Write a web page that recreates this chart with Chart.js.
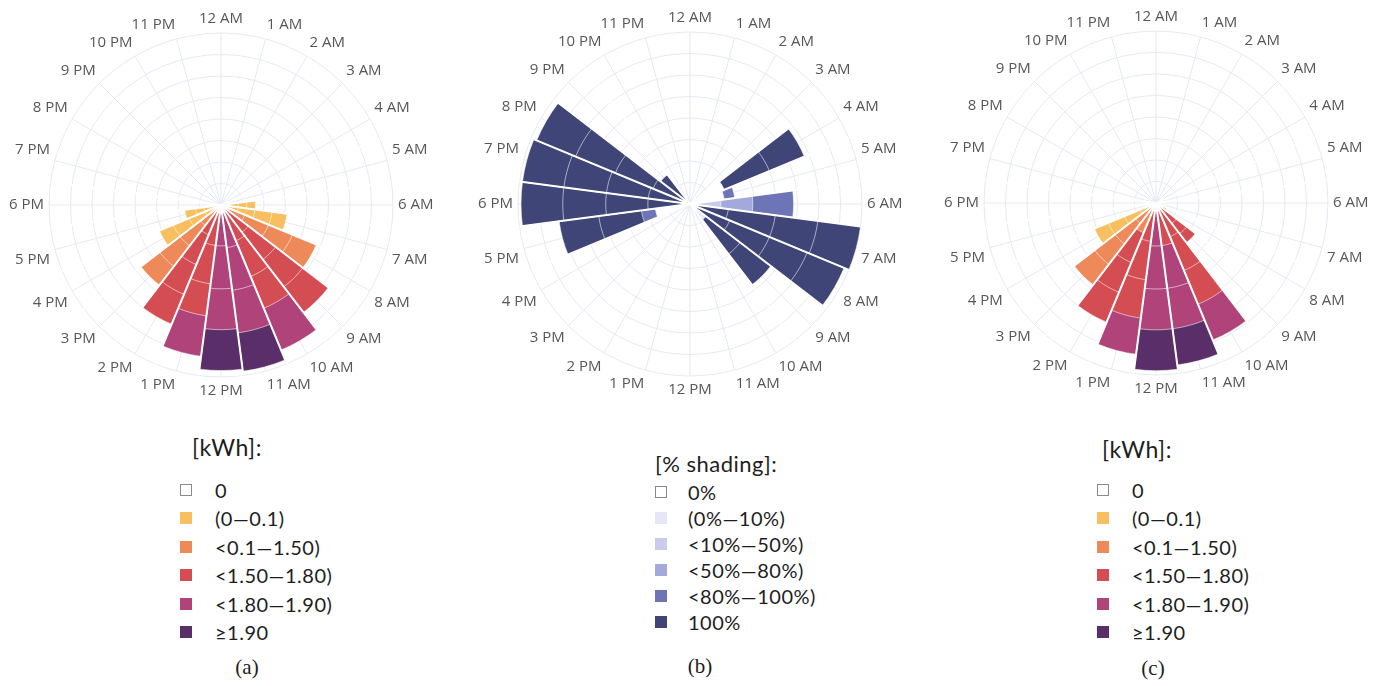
<!DOCTYPE html>
<html>
<head>
<meta charset="utf-8">
<script src="https://cdn.jsdelivr.net/npm/chart.js@4.4.1/dist/chart.umd.min.js"></script>
<style>
  html, body { margin: 0; padding: 0; background: #ffffff; width: 1383px; height: 686px; overflow: hidden; }
  canvas.rose { position: absolute; }
  .lg-title, .lg-text { position: absolute; font-family: Lato, "Open Sans", sans-serif; color: #1e1e1e; white-space: nowrap; line-height: 1; letter-spacing: 0.5px; }
  .lg-box { position: absolute; width: 12px; height: 12px; box-sizing: border-box; }
  .caption { position: absolute; font-family: "Liberation Serif", "DejaVu Serif", serif; font-size: 21px; color: #1e1e1e; line-height: 1; transform: translate(-50%, -50%); }
</style>
</head>
<body>
<canvas id="roseA" class="rose" width="460" height="390"></canvas>
<canvas id="roseB" class="rose" width="460" height="390"></canvas>
<canvas id="roseC" class="rose" width="460" height="390"></canvas>

<script>
// Hour-of-day directions, clockwise from midnight at the top
const hourLabels = ['12 AM','1 AM','2 AM','3 AM','4 AM','5 AM','6 AM','7 AM','8 AM','9 AM','10 AM','11 AM',
                    '12 PM','1 PM','2 PM','3 PM','4 PM','5 PM','6 PM','7 PM','8 PM','9 PM','10 PM','11 PM'];

// Energy classes [kWh] used by roses (a) and (c)
const kwhClasses = ['0', '(0\u20140.1)', '<0.1\u20141.50)', '<1.50\u20141.80)', '<1.80\u20141.90)', '\u22651.90'];
const kwhColors  = ['#ffffff', '#f7bf5f', '#ee8a5a', '#d34d52', '#b0437a', '#5a2e69'];

// Shading classes [%] used by rose (b)
const shadeClasses = ['0%', '(0%\u201410%)', '<10%\u201450%)', '<50%\u201480%)', '<80%\u2014100%)', '100%'];
const shadeColors  = ['#ffffff', '#e5e7f5', '#c9cdeb', '#a3a9da', '#6d75b6', '#3f4677'];

// Radial axis
const radialMax = 40;
const radialStep = 5;

// ---- Rose (a): stacked layers, value per hour and class per hour ----
const aLayer1 = [0,0,0,0,0,2,2,4,6,8,9,10,9.5,9.5,7.5,6,4,2,1.5,0,0,0,0,0];
const aClass1 = [0,0,0,0,0,1,1,1,2,3,3,4,4,3,3,2,1,1,1,0,0,0,0,0];
const aLayer2 = [0,0,0,0,0,0,2,4,6,8,9,10,10,9,7.5,6,4,2,0,0,0,0,0,0];
const aClass2 = [0,0,0,0,0,0,1,1,2,3,3,4,4,3,3,2,1,1,0,0,0,0,0,0];
const aLayer3 = [0,0,0,0,0,0,2,4,6,8,8,10,9.5,7.5,7.5,6,4,2,0,0,0,0,0,0];
const aClass3 = [0,0,0,0,0,0,1,1,2,3,3,4,4,3,3,2,1,1,0,0,0,0,0,0];
const aLayer4 = [0,0,0,0,0,0,2,3.5,6,7.5,10.5,9,9.5,9.5,7.5,5.5,3.5,2.5,0,0,0,0,0,0];
const aClass4 = [0,0,0,0,0,0,1,1,2,3,4,5,5,4,3,2,1,1,0,0,0,0,0,0];

// ---- Rose (b): shading ----
const bLayer1 = [0,0,0,0,8.6,8,7.2,9,10,4.7,0,0,0,0,0,0,0,8.1,9.8,9.8,9.3,8.6,0,0];
const bClass1 = [0,0,0,0,0,0,2,5,5,1,0,0,0,0,0,0,0,0,5,5,5,5,0,0];
const bLayer2 = [0,0,0,0,11.4,2.5,7.4,11,10,10,0,0,0,0,0,0,0,3.3,9.8,9.8,9.5,0,0,0];
const bClass2 = [0,0,0,0,5,4,3,5,5,5,0,0,0,0,0,0,0,4,5,5,5,0,0,0];
const bLayer3 = [0,0,0,0,8.8,0,9.5,10,9.5,9,0,0,0,0,0,0,0,10,10,10,10,0,0,0];
const bClass3 = [0,0,0,0,5,0,4,5,5,5,0,0,0,0,0,0,0,5,5,5,5,0,0,0];
const bLayer4 = [0,0,0,0,0,0,0,10,9.3,0,0,0,0,0,0,0,0,9.3,9.7,9.7,9.8,0,0,0];
const bClass4 = [0,0,0,0,0,0,0,5,5,0,0,0,0,0,0,0,0,5,5,5,5,0,0,0];

// ---- Rose (c): energy ----
const cLayer1 = [0,0,0,0,0,2.3,0,0,2.8,3,8.5,10,10,9,7.5,6,4,0,1.9,0,0,0,0,0];
const cClass1 = [0,0,0,0,0,1,0,0,1,3,3,3,4,3,2,2,1,0,1,0,0,0,0,0];
const cLayer2 = [0,0,0,0,0,0,0,0,0,3,8.5,10,10,9,7.5,6,4,0,0,0,0,0,0,0];
const cClass2 = [0,0,0,0,0,0,0,0,0,3,3,4,4,3,3,2,1,0,0,0,0,0,0,0];
const cLayer3 = [0,0,0,0,0,0,0,0,0,3,8.5,9.5,9.5,9,7.5,6,4,0,0,0,0,0,0,0];
const cClass3 = [0,0,0,0,0,0,0,0,0,3,3,4,4,3,3,2,1,0,0,0,0,0,0,0];
const cLayer4 = [0,0,0,0,0,0,0,0,0,2.6,9,8.5,9.5,8.5,7.5,6,3.5,0,0,0,0,0,0,0];
const cClass4 = [0,0,0,0,0,0,0,0,0,3,4,5,5,4,3,2,1,0,0,0,0,0,0,0];

// Build cumulative datasets: inner layers are listed first so they are painted last (on top)
function stackedDatasets(layers, classes, palette) {
  const out = [];
  let running = new Array(hourLabels.length).fill(0);
  layers.forEach((layer, k) => {
    running = running.map((v, h) => v + layer[h]);
    const cls = classes[k];
    out.push({
      rAxisID: 'r',
      data: running.slice(),
      backgroundColor: cls.map((c) => palette[c]),
      borderColor: cls.map(c => c === 0 ? '#eceef6' : 'rgba(255,255,255,0.55)'),
      borderWidth: (ctx) => (layer[ctx.dataIndex] > 0 ? 1 : 0),
      borderAlign: 'center'
    });
  });
  return out;
}

const labelFont = { family: 'Open Sans', size: 15 };

function roseOptions(layers) {
  const totals = hourLabels.map((_, h) => layers.reduce((s, l) => s + l[h], 0));
  return {
    responsive: false,
    animation: false,
    devicePixelRatio: 1,
    events: [],
    layout: { padding: 0 },
    plugins: { legend: { display: false }, tooltip: { enabled: false } },
    scales: {
      // background polar grid with hour labels
      bg: {
        type: 'radialLinear',
        axis: 'r',
        min: 0, max: radialMax,
        startAngle: 0,
        grid: { circular: true, color: '#e6e9f3', lineWidth: 1 },
        angleLines: { display: true, color: '#e6e9f3', lineWidth: 1 },
        ticks: { display: false, stepSize: radialStep },
        pointLabels: { display: true, centerPointLabels: false, font: labelFont, color: '#575757', padding: 5 }
      },
      // axis carrying the bars; its angle lines separate neighbouring bars
      r: {
        type: 'radialLinear',
        axis: 'r',
        min: 0, max: radialMax,
        startAngle: -7.5,
        grid: { display: false, z: 1 },
        angleLines: {
          display: true,
          lineWidth: 2,
          color: (ctx) => {
            const i = ctx.index;
            const prev = (i + hourLabels.length - 1) % hourLabels.length;
            return (totals[i] > 0 || totals[prev] > 0) ? '#ffffff' : 'rgba(255,255,255,0)';
          }
        },
        ticks: { display: false, stepSize: radialStep },
        pointLabels: { display: true, centerPointLabels: true, font: labelFont, color: 'rgba(0,0,0,0)', padding: 5 }
      }
    }
  };
}

function drawRose(id, layers, classes, palette) {
  new Chart(document.getElementById(id), {
    type: 'polarArea',
    data: { labels: hourLabels, datasets: stackedDatasets(layers, classes, palette) },
    options: roseOptions(layers)
  });
}

// Canvas placement
function place(id, left, top) {
  const el = document.getElementById(id);
  el.style.left = left + 'px';
  el.style.top = top + 'px';
}
place('roseA', -8, 10);
place('roseB', 461, 9);
place('roseC', 927, 8);

// Legends
function legend(cfg) {
  const body = document.body;
  const t = document.createElement('div');
  t.className = 'lg-title';
  t.textContent = cfg.title;
  t.style.left = cfg.titleX + 'px';
  t.style.top = (cfg.titleY - cfg.titleSize / 2) + 'px';
  t.style.fontSize = cfg.titleSize + 'px';
  body.appendChild(t);
  cfg.names.forEach((name, i) => {
    const cy = cfg.firstY + i * cfg.step;
    const box = document.createElement('div');
    box.className = 'lg-box';
    box.style.left = cfg.boxX + 'px';
    box.style.top = (cy - 6) + 'px';
    box.style.background = cfg.colors[i];
    if (i === 0) box.style.border = '1px solid #8a8a8a';
    body.appendChild(box);
    const tx = document.createElement('div');
    tx.className = 'lg-text';
    tx.textContent = name;
    tx.style.left = cfg.textX + 'px';
    tx.style.top = (cy - cfg.size / 2) + 'px';
    tx.style.fontSize = cfg.size + 'px';
    body.appendChild(tx);
  });
  const cap = document.createElement('div');
  cap.className = 'caption';
  cap.textContent = cfg.caption;
  cap.style.left = cfg.capX + 'px';
  cap.style.top = cfg.capY + 'px';
  body.appendChild(cap);
}

legend({ title: '[kWh]:', names: kwhClasses, colors: kwhColors, size: 20, titleSize: 23,
         titleX: 192, titleY: 447, boxX: 180, textX: 215, firstY: 490, step: 28.4,
         caption: '(a)', capX: 247, capY: 667 });
legend({ title: '[% shading]:', names: shadeClasses, colors: shadeColors, size: 20, titleSize: 22,
         titleX: 655, titleY: 464, boxX: 655, textX: 688, firstY: 492, step: 26,
         caption: '(b)', capX: 700, capY: 666 });
legend({ title: '[kWh]:', names: kwhClasses, colors: kwhColors, size: 20, titleSize: 23,
         titleX: 1102, titleY: 449, boxX: 1097, textX: 1132, firstY: 490, step: 28.4,
         caption: '(c)', capX: 1153, capY: 668 });

drawRose('roseA', [aLayer1, aLayer2, aLayer3, aLayer4], [aClass1, aClass2, aClass3, aClass4], kwhColors);
drawRose('roseB', [bLayer1, bLayer2, bLayer3, bLayer4], [bClass1, bClass2, bClass3, bClass4], shadeColors);
drawRose('roseC', [cLayer1, cLayer2, cLayer3, cLayer4], [cClass1, cClass2, cClass3, cClass4], kwhColors);
</script>
</body>
</html>
